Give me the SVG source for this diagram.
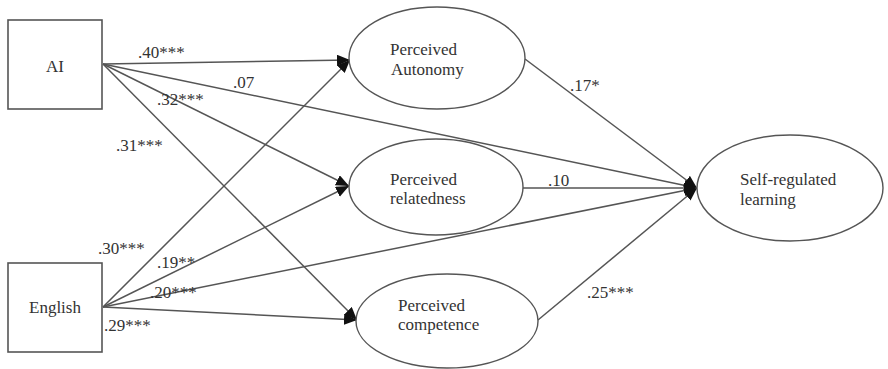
<svg xmlns="http://www.w3.org/2000/svg" width="888" height="369" viewBox="0 0 888 369">
<style>
.box{fill:#fff;stroke:#555;stroke-width:1.6}
.ell{fill:#fff;stroke:#555;stroke-width:1.4}
.t{font-family:"Liberation Serif","Times New Roman",serif;font-size:17px;fill:#333}
.c line{stroke:#555;stroke-width:1.5;marker-end:url(#ah)}
</style>
<defs>
<marker id="ah" markerUnits="userSpaceOnUse" markerWidth="14" markerHeight="12" refX="13" refY="5.5" orient="auto">
<path d="M0,0 L13,5.5 L0,11 Z" fill="#111"/>
</marker>
</defs>
<g class="c" id="connectors">
<line x1="103" y1="64" x2="350" y2="60"/>
<line x1="103" y1="64" x2="349" y2="186"/>
<line x1="103" y1="64" x2="357" y2="320"/>
<line x1="103" y1="64" x2="697" y2="188"/>
<line x1="103" y1="307" x2="350" y2="60"/>
<line x1="103" y1="307" x2="349" y2="186"/>
<line x1="103" y1="307" x2="357" y2="320"/>
<line x1="103" y1="307" x2="697" y2="188"/>
<line x1="525" y1="59" x2="697" y2="188"/>
<line x1="523" y1="188" x2="697" y2="188"/>
<line x1="538" y1="320" x2="697" y2="188"/>
</g>
<g id="labels" class="t">
<text x="138" y="58">.40***</text>
<text x="233" y="88">.07</text>
<text x="157" y="105">.32***</text>
<text x="116" y="151">.31***</text>
<text x="98" y="254">.30***</text>
<text x="157" y="268">.19**</text>
<text x="150" y="298">.20***</text>
<text x="104" y="331">.29***</text>
<text x="570" y="91">.17*</text>
<text x="548" y="186">.10</text>
<text x="587" y="298">.25***</text>
</g>
<g id="AI">
<rect class="box" x="8" y="20" width="94" height="89"/>
<text class="t" x="55" y="72" text-anchor="middle">AI</text>
</g>
<g id="English">
<rect class="box" x="8" y="263" width="94" height="89"/>
<text class="t" x="55" y="313" text-anchor="middle">English</text>
</g>
<g id="autonomy">
<ellipse class="ell" cx="437" cy="58" rx="88" ry="51"/>
<text class="t" x="390" y="55">Perceived</text>
<text class="t" x="391" y="75">Autonomy</text>
</g>
<g id="relatedness">
<ellipse class="ell" cx="436" cy="187" rx="87" ry="48"/>
<text class="t" x="390" y="185">Perceived</text>
<text class="t" x="390" y="204">relatedness</text>
</g>
<g id="competence">
<ellipse class="ell" cx="447" cy="321" rx="91" ry="47"/>
<text class="t" x="398" y="311">Perceived</text>
<text class="t" x="398" y="330">competence</text>
</g>
<g id="srl">
<ellipse class="ell" cx="790" cy="188" rx="93" ry="53"/>
<text class="t" x="740" y="185">Self-regulated</text>
<text class="t" x="740" y="205">learning</text>
</g>
</svg>
